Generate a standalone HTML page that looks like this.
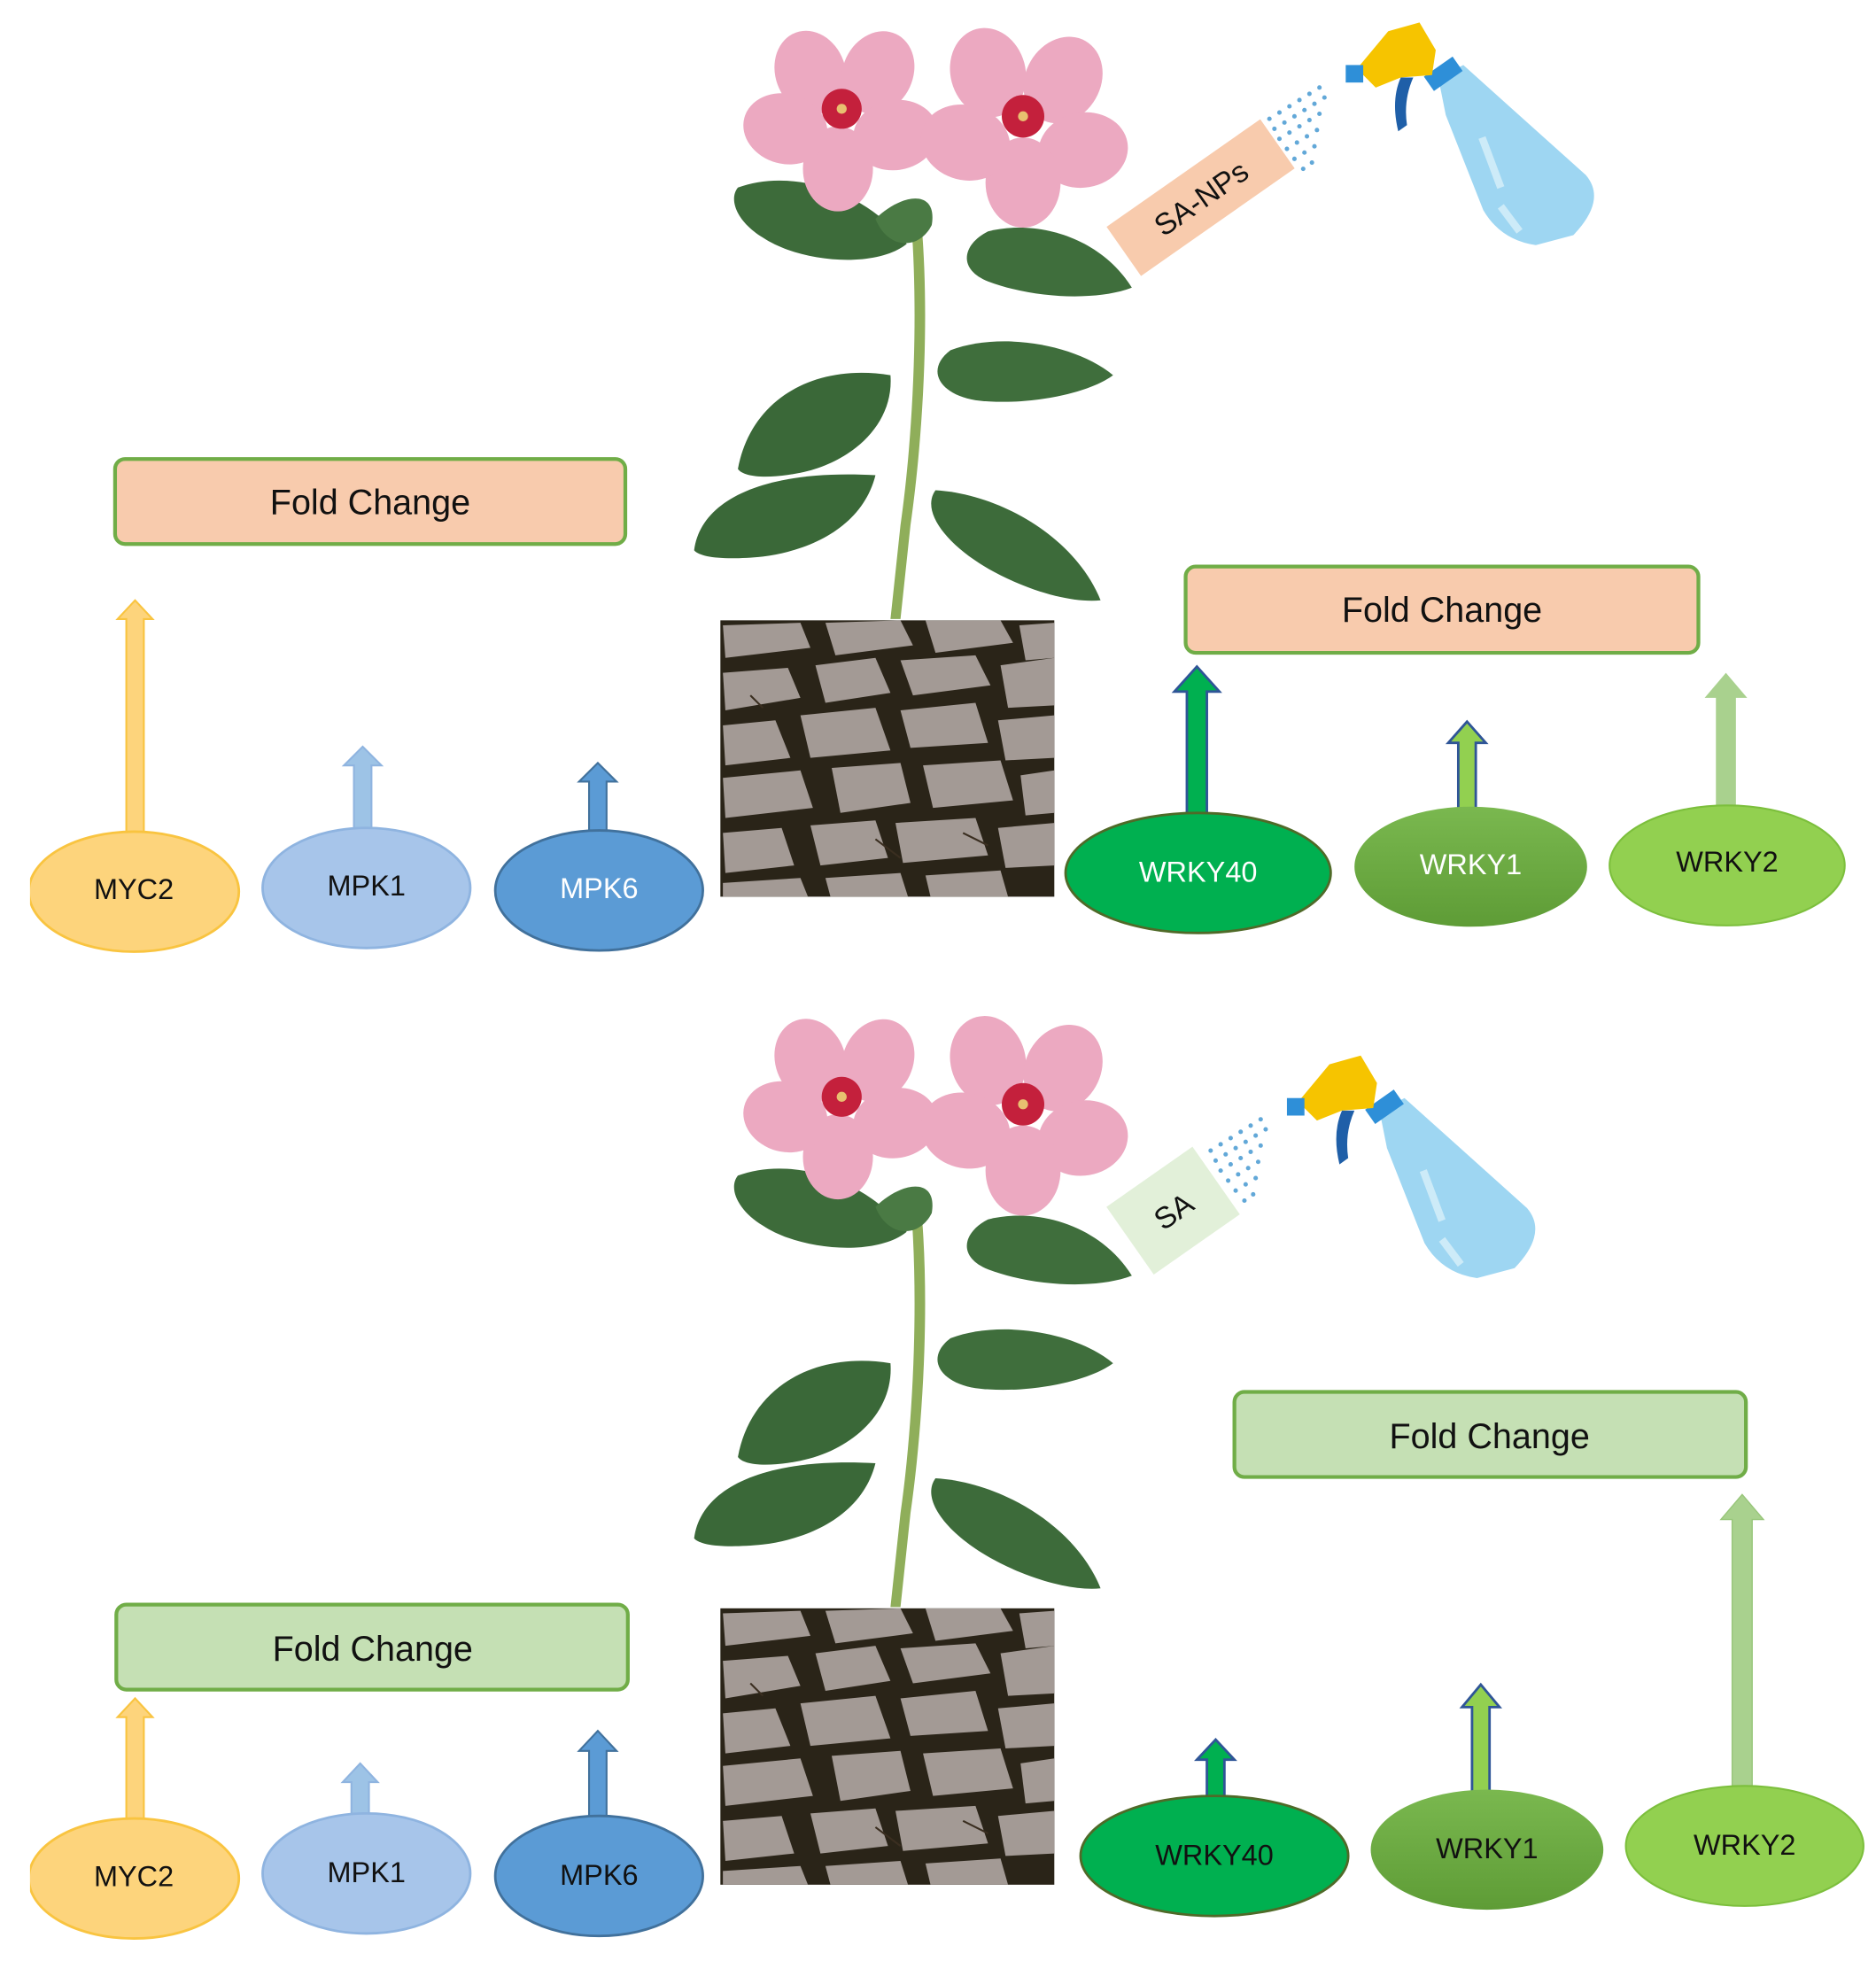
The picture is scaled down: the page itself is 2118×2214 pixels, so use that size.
<!DOCTYPE html>
<html><head><meta charset="utf-8"><style>html,body{margin:0;padding:0;background:#fff}svg{display:block}</style></head>
<body>
<svg width="2118" height="2214" viewBox="0 0 1500 1568" xmlns="http://www.w3.org/2000/svg" font-family="Liberation Sans, sans-serif">
<defs>
<linearGradient id="w1" x1="0" y1="0" x2="0" y2="1"><stop offset="0" stop-color="#7ab84f"/><stop offset="1" stop-color="#5e9c36"/></linearGradient>
<clipPath id="sc"><rect x="576" y="0" width="267" height="221"/></clipPath>
<g id="plant">
  <path d="M728,170 C735,250 730,350 720,420 L712,495 L720,495 L728,420 C738,350 744,250 736,170 Z" fill="#8fae5a"/>
  <path d="M590,150 C630,135 690,150 725,195 C700,215 640,210 610,190 C590,178 582,160 590,150Z" fill="#3d6b3a"/>
  <path d="M905,230 C880,190 830,175 790,185 C770,195 765,215 790,225 C830,240 880,240 905,230Z" fill="#3f6e3c"/>
  <path d="M590,375 C600,320 650,290 712,300 C715,340 680,370 640,378 C615,383 595,382 590,375Z" fill="#3a6838"/>
  <path d="M890,300 C860,275 800,265 760,280 C740,295 750,315 780,320 C820,325 870,315 890,300Z" fill="#3f6e3c"/>
  <path d="M555,440 C560,400 610,375 700,380 C690,420 650,440 610,445 C580,448 560,446 555,440Z" fill="#3a6838"/>
  <path d="M880,480 C860,430 800,395 748,392 C735,410 760,440 800,460 C830,475 860,482 880,480Z" fill="#3d6b3a"/>
  <path d="M700,175 C720,155 750,150 745,180 C735,200 710,200 700,175Z" fill="#4a7a44"/>
  <g fill="#eca9c1">
    <ellipse cx="648" cy="58" rx="28" ry="34" transform="rotate(-20 648 58)"/>
    <ellipse cx="702" cy="58" rx="28" ry="34" transform="rotate(25 702 58)"/>
    <ellipse cx="716" cy="108" rx="28" ry="34" transform="rotate(80 716 108)"/>
    <ellipse cx="670" cy="135" rx="28" ry="34"/>
    <ellipse cx="628" cy="103" rx="28" ry="34" transform="rotate(-75 628 103)"/>
    <ellipse cx="790" cy="58" rx="30" ry="36" transform="rotate(-15 790 58)"/>
    <ellipse cx="850" cy="64" rx="30" ry="36" transform="rotate(30 850 64)"/>
    <ellipse cx="866" cy="120" rx="30" ry="36" transform="rotate(80 866 120)"/>
    <ellipse cx="818" cy="146" rx="30" ry="36"/>
    <ellipse cx="772" cy="114" rx="30" ry="36" transform="rotate(-75 772 114)"/>
  </g>
  <circle cx="673" cy="87" r="16" fill="#c4203c"/>
  <circle cx="673" cy="87" r="4" fill="#e8c070"/>
  <circle cx="818" cy="93" r="17" fill="#c4203c"/>
  <circle cx="818" cy="93" r="4" fill="#e8c070"/>
</g>
<g id="soil">
  <rect x="576" y="0" width="267" height="221" fill="#2a2418"/>
  <g clip-path="url(#sc)" fill="#a39a95">
    <path d="M578,4 L640,2 L648,22 L580,30 Z"/>
    <path d="M660,2 L720,0 L730,20 L668,28 Z"/>
    <path d="M740,0 L800,0 L810,18 L748,26 Z"/>
    <path d="M815,4 L843,2 L843,30 L820,32 Z"/>
    <path d="M578,42 L630,38 L640,62 L580,72 Z"/>
    <path d="M652,36 L700,30 L712,58 L660,66 Z"/>
    <path d="M720,32 L780,28 L792,52 L730,60 Z"/>
    <path d="M800,36 L843,30 L843,68 L806,70 Z"/>
    <path d="M578,84 L620,80 L632,110 L580,116 Z"/>
    <path d="M640,76 L700,70 L712,104 L648,110 Z"/>
    <path d="M720,72 L780,66 L790,98 L728,102 Z"/>
    <path d="M798,80 L843,76 L843,110 L804,112 Z"/>
    <path d="M578,126 L640,120 L650,150 L580,158 Z"/>
    <path d="M665,118 L720,114 L728,146 L672,154 Z"/>
    <path d="M738,116 L800,112 L810,144 L746,150 Z"/>
    <path d="M816,124 L843,120 L843,154 L820,156 Z"/>
    <path d="M578,170 L625,166 L635,196 L580,202 Z"/>
    <path d="M648,164 L700,160 L710,190 L656,196 Z"/>
    <path d="M716,162 L780,158 L790,188 L722,194 Z"/>
    <path d="M798,166 L843,162 L843,196 L804,198 Z"/>
    <path d="M578,210 L640,206 L646,221 L578,221 Z"/>
    <path d="M660,206 L720,202 L726,221 L664,221 Z"/>
    <path d="M740,204 L800,200 L806,221 L744,221 Z"/>
  </g>
  <g stroke="#3a2e20" stroke-width="1.5" fill="none">
    <path d="M770,170 L790,180 M700,175 L720,190 M600,60 L610,70"/>
  </g>
</g>
<g id="bottle">
  <path d="M1150,62 L1170,52 L1268,140 Q1285,160 1258,188 L1228,196 Q1200,192 1186,168 L1156,92 Z" fill="#9ed6f2"/>
  <path d="M1185,110 L1200,150" stroke="#cdebf8" stroke-width="6"/>
  <path d="M1200,165 L1215,185" stroke="#cdebf8" stroke-width="6"/>
  <rect x="1140" y="52" width="28" height="14" fill="#2e8fd8" transform="rotate(-35 1154 59)"/>
  <path d="M1085,55 L1110,25 L1135,18 L1148,40 L1145,60 L1120,62 L1100,70 Z" fill="#f6c400"/>
  <rect x="1076" y="52" width="14" height="14" fill="#2e8fd8"/>
  <path d="M1120,62 Q1112,80 1118,105 L1125,100 Q1122,80 1130,62 Z" fill="#1f5fa8"/>
</g>
<g id="spray" fill="#62a8d8">
  <circle cx="0" cy="0" r="1.8"/><circle cx="8" cy="-5" r="1.8"/><circle cx="16" cy="-10" r="1.8"/><circle cx="24" cy="-15" r="1.8"/><circle cx="32" cy="-20" r="1.8"/><circle cx="40" cy="-25" r="1.8"/>
  <circle cx="4" cy="8" r="1.8"/><circle cx="12" cy="3" r="1.8"/><circle cx="20" cy="-2" r="1.8"/><circle cx="28" cy="-7" r="1.8"/><circle cx="36" cy="-12" r="1.8"/><circle cx="44" cy="-17" r="1.8"/>
  <circle cx="8" cy="16" r="1.8"/><circle cx="16" cy="11" r="1.8"/><circle cx="24" cy="6" r="1.8"/><circle cx="32" cy="1" r="1.8"/><circle cx="40" cy="-4" r="1.8"/>
  <circle cx="14" cy="24" r="1.8"/><circle cx="22" cy="19" r="1.8"/><circle cx="30" cy="14" r="1.8"/><circle cx="38" cy="9" r="1.8"/>
  <circle cx="20" cy="32" r="1.8"/><circle cx="28" cy="27" r="1.8"/><circle cx="36" cy="22" r="1.8"/>
  <circle cx="27" cy="40" r="1.8"/><circle cx="34" cy="35" r="1.8"/>
</g>
</defs>

<!-- TOP -->
<use href="#plant"/>
<use href="#soil" y="496"/>
<use href="#bottle"/>
<use href="#spray" x="1015" y="95"/>
<g transform="rotate(-35 960 158)">
  <rect x="885" y="134" width="150" height="48" fill="#f8cbad"/>
  <text x="960" y="167" font-size="24" text-anchor="middle" fill="#111">SA-NPs</text>
</g>

<rect x="92" y="367" width="408" height="68" rx="8" fill="#f8cbad" stroke="#70ad47" stroke-width="3"/>
<text x="296" y="411" font-size="28" text-anchor="middle" fill="#111">Fold Change</text>
<rect x="948" y="453" width="410" height="69" rx="8" fill="#f8cbad" stroke="#70ad47" stroke-width="3"/>
<text x="1153" y="497" font-size="28" text-anchor="middle" fill="#111">Fold Change</text>

<path d="M101,668 L101,495 L94,495 L108,480 L122,495 L115,495 L115,668 Z" fill="#fdd47c" stroke="#f9c440" stroke-width="1.5"/>
<path d="M283,665 L283,612 L275,612 L290,597 L305,612 L297,612 L297,665 Z" fill="#9dc3e6" stroke="#8fb4e0" stroke-width="1.5"/>
<path d="M471,665 L471,625 L463,625 L478,610 L493,625 L485,625 L485,665 Z" fill="#5b9bd5" stroke="#41719c" stroke-width="1.5"/>
<ellipse cx="107" cy="713" rx="84" ry="48" fill="#fdd47c" stroke="#f9c440" stroke-width="2"/>
<rect x="0" y="650" width="24" height="130" fill="#fff"/>
<ellipse cx="293" cy="710" rx="83" ry="48" fill="#a7c5ea" stroke="#8fb4e0" stroke-width="2"/>
<ellipse cx="479" cy="712" rx="83" ry="48" fill="#5b9bd5" stroke="#41719c" stroke-width="2"/>
<text x="107" y="719" font-size="23" text-anchor="middle" fill="#111">MYC2</text>
<text x="293" y="716" font-size="23" text-anchor="middle" fill="#111">MPK1</text>
<text x="479" y="718" font-size="23" text-anchor="middle" fill="#fff">MPK6</text>

<path d="M949,652 L949,553 L939,553 L957,533 L975,553 L965,553 L965,652 Z" fill="#00b050" stroke="#2f5597" stroke-width="2"/>
<path d="M1166,647 L1166,594 L1158,594 L1173,577 L1188,594 L1180,594 L1180,647 Z" fill="#92d050" stroke="#2f5597" stroke-width="2"/>
<path d="M1372,645 L1372,558 L1363,558 L1380,538 L1397,558 L1388,558 L1388,645 Z" fill="#a9d18e"/>
<ellipse cx="958" cy="698" rx="106" ry="48" fill="#00b050" stroke="#4f6a28" stroke-width="2"/>
<ellipse cx="1176" cy="693" rx="93" ry="48" fill="url(#w1)"/>
<ellipse cx="1381" cy="692" rx="94" ry="48" fill="#92d050" stroke="#7cbf3c" stroke-width="1.5"/>
<text x="958" y="705" font-size="23" text-anchor="middle" fill="#fff">WRKY40</text>
<text x="1176" y="699" font-size="23" text-anchor="middle" fill="#fff">WRKY1</text>
<text x="1381" y="697" font-size="23" text-anchor="middle" fill="#111">WRKY2</text>

<!-- BOTTOM -->
<use href="#plant" y="790"/>
<use href="#soil" y="1286"/>
<use href="#bottle" x="-47" y="826"/>
<use href="#spray" x="968" y="920"/>
<g transform="rotate(-35 938 968)">
  <rect x="896" y="935" width="84" height="66" fill="#e2f0d9"/>
  <text x="938" y="977" font-size="24" text-anchor="middle" fill="#111">SA</text>
</g>

<rect x="987" y="1113" width="409" height="68" rx="8" fill="#c5e0b4" stroke="#70ad47" stroke-width="3"/>
<text x="1191" y="1158" font-size="28" text-anchor="middle" fill="#111">Fold Change</text>
<rect x="93" y="1283" width="409" height="68" rx="8" fill="#c5e0b4" stroke="#70ad47" stroke-width="3"/>
<text x="298" y="1328" font-size="28" text-anchor="middle" fill="#111">Fold Change</text>

<path d="M101,1458 L101,1373 L94,1373 L108,1358 L122,1373 L115,1373 L115,1458 Z" fill="#fdd47c" stroke="#f9c440" stroke-width="1.5"/>
<path d="M281,1455 L281,1425 L274,1425 L288,1410 L302,1425 L295,1425 L295,1455 Z" fill="#9dc3e6" stroke="#8fb4e0" stroke-width="1.5"/>
<path d="M471,1455 L471,1400 L463,1400 L478,1384 L493,1400 L485,1400 L485,1455 Z" fill="#5b9bd5" stroke="#41719c" stroke-width="1.5"/>
<ellipse cx="107" cy="1502" rx="84" ry="48" fill="#fdd47c" stroke="#f9c440" stroke-width="2"/>
<rect x="0" y="1440" width="24" height="128" fill="#fff"/>
<ellipse cx="293" cy="1498" rx="83" ry="48" fill="#a7c5ea" stroke="#8fb4e0" stroke-width="2"/>
<ellipse cx="479" cy="1500" rx="83" ry="48" fill="#5b9bd5" stroke="#41719c" stroke-width="2"/>
<text x="107" y="1508" font-size="23" text-anchor="middle" fill="#111">MYC2</text>
<text x="293" y="1505" font-size="23" text-anchor="middle" fill="#111">MPK1</text>
<text x="479" y="1507" font-size="23" text-anchor="middle" fill="#111">MPK6</text>

<path d="M965,1438 L965,1407 L957,1407 L972,1391 L987,1407 L979,1407 L979,1438 Z" fill="#00b050" stroke="#2f5597" stroke-width="2"/>
<path d="M1177,1433 L1177,1365 L1169,1365 L1184,1347 L1199,1365 L1191,1365 L1191,1433 Z" fill="#92d050" stroke="#2f5597" stroke-width="2"/>
<path d="M1385,1430 L1385,1215 L1376,1215 L1393,1195 L1410,1215 L1401,1215 L1401,1430 Z" fill="#a9d18e" stroke="#98c67a" stroke-width="1"/>
<ellipse cx="971" cy="1484" rx="107" ry="48" fill="#00b050" stroke="#4f6a28" stroke-width="2"/>
<ellipse cx="1189" cy="1479" rx="93" ry="48" fill="url(#w1)"/>
<ellipse cx="1395" cy="1476" rx="95" ry="48" fill="#92d050" stroke="#7cbf3c" stroke-width="1.5"/>
<text x="971" y="1491" font-size="23" text-anchor="middle" fill="#111">WRKY40</text>
<text x="1189" y="1486" font-size="23" text-anchor="middle" fill="#111">WRKY1</text>
<text x="1395" y="1483" font-size="23" text-anchor="middle" fill="#111">WRKY2</text>
</svg>
</body></html>
